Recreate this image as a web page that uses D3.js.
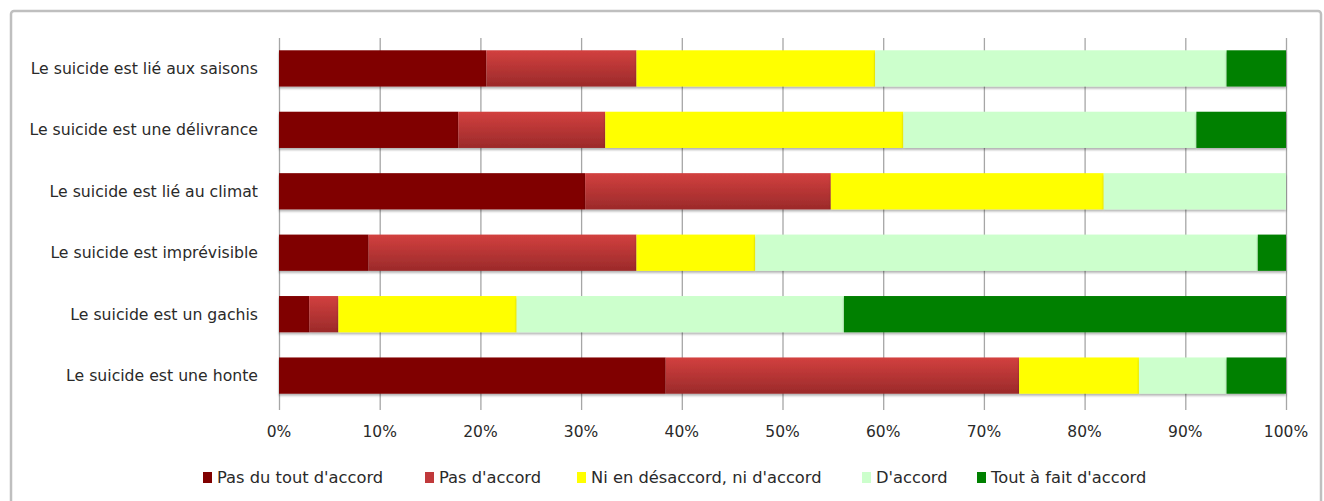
<!DOCTYPE html>
<html>
<head>
<meta charset="utf-8">
<script src="https://cdn.jsdelivr.net/npm/d3@7"></script>
<style>
  body { margin: 0; background: #fff; }
  svg { display: block; font-family: "DejaVu Sans", "Liberation Sans", Arial, sans-serif; }
</style>
</head>
<body>
<div id="chart"></div>
<script>
// categories, top to bottom
var categories = [
    "Le suicide est lié aux saisons",
    "Le suicide est une délivrance",
    "Le suicide est lié au climat",
    "Le suicide est imprévisible",
    "Le suicide est un gachis",
    "Le suicide est une honte"
];

var seriesNames = ["Pas du tout d'accord", "Pas d'accord", "Ni en désaccord, ni d'accord", "D'accord", "Tout à fait d'accord"];

// percentages per series, one value per category
var pasDuTout = [20.6, 17.8, 30.4, 8.9, 3.0, 38.4];
var pasAccord = [14.9, 14.6, 24.4, 26.6, 2.9, 35.1];
var neutre    = [23.7, 29.6, 27.1, 11.8, 17.7, 11.9];
var accord    = [34.9, 29.1, 18.1, 49.9, 32.5, 8.7];
var toutAFait = [5.9, 8.9, 0.0, 2.8, 43.9, 5.9];

var tickValues = [0, 10, 20, 30, 40, 50, 60, 70, 80, 90, 100];

var seriesColors = ["#800000", "url(#redGrad)", "#ffff00", "#ccffcc", "#008000"];
var legendColors = ["#800000", "#c0393b", "#ffff00", "#ccffcc", "#008000"];

var width = 1324, height = 501;
var margin = {left: 279, right: 38, top: 38, bottom: 95};

var svg = d3.select("#chart").append("svg")
    .attr("width", width)
    .attr("height", height);

var defs = svg.append("defs");
var grad = defs.append("linearGradient")
    .attr("id", "redGrad")
    .attr("x1", 0).attr("y1", 0).attr("x2", 0).attr("y2", 1);
grad.append("stop").attr("offset", "0%").attr("stop-color", "#d2403f");
grad.append("stop").attr("offset", "100%").attr("stop-color", "#9b2a2a");

var shadow = defs.append("filter").attr("id", "shadow")
    .attr("x", "-5%").attr("y", "-20%").attr("width", "110%").attr("height", "150%");
shadow.append("feDropShadow")
    .attr("dx", 0).attr("dy", 2).attr("stdDeviation", 1.2)
    .attr("flood-color", "#000").attr("flood-opacity", 0.3);

// outer frame
svg.append("rect")
    .attr("x", 11).attr("y", 11)
    .attr("width", 1310).attr("height", 500)
    .attr("rx", 3)
    .attr("fill", "#fff")
    .attr("stroke", "#bfbfbf")
    .attr("stroke-width", 2.5);

var x = d3.scaleLinear()
    .domain([0, 100])
    .range([margin.left, width - margin.right]);

var y = d3.scaleBand()
    .domain(categories)
    .range([margin.top, height - margin.bottom])
    .paddingInner(0.41)
    .paddingOuter(0.2);

// gridlines
svg.append("g")
    .selectAll("line")
    .data(tickValues)
    .enter().append("line")
    .attr("x1", function (d) { return x(d) + 0.5; })
    .attr("x2", function (d) { return x(d) + 0.5; })
    .attr("y1", margin.top)
    .attr("y2", height - margin.bottom + 4)
    .attr("stroke", "#a6a6a6")
    .attr("stroke-width", 1.3);

// stacked data
var rows = categories.map(function (c, i) {
    return {cat: c, v: [pasDuTout[i], pasAccord[i], neutre[i], accord[i], toutAFait[i]]};
});
var keys = [0, 1, 2, 3, 4];
var stacked = d3.stack()
    .keys(keys)
    .value(function (d, k) { return d.v[k]; })(rows);

var layers = svg.append("g").selectAll("g")
    .data(stacked)
    .enter().append("g")
    .attr("fill", function (d, i) { return seriesColors[i]; });

layers.selectAll("rect")
    .data(function (d) { return d; })
    .enter().append("rect")
    .attr("x", function (d) { return x(d[0]); })
    .attr("y", function (d) { return y(d.data.cat); })
    .attr("width", function (d) { return x(d[1]) - x(d[0]); })
    .attr("height", y.bandwidth())
    .attr("filter", "url(#shadow)");

// category labels
svg.append("g")
    .selectAll("text")
    .data(categories)
    .enter().append("text")
    .attr("x", margin.left - 21)
    .attr("y", function (d) { return y(d) + y.bandwidth() / 2; })
    .attr("dy", "0.35em")
    .attr("text-anchor", "end")
    .attr("font-size", 15.7)
    .attr("fill", "#2a2a2a")
    .text(function (d) { return d; });

// x axis tick labels
svg.append("g")
    .selectAll("text")
    .data(tickValues)
    .enter().append("text")
    .attr("x", function (d) { return x(d); })
    .attr("y", 437)
    .attr("text-anchor", "middle")
    .attr("font-size", 15.5)
    .attr("fill", "#2a2a2a")
    .text(function (d) { return d + "%"; });

// legend
var legendX = [203, 425, 577, 862, 977];
var legend = svg.append("g").selectAll("g")
    .data(seriesNames)
    .enter().append("g")
    .attr("transform", function (d, i) { return "translate(" + legendX[i] + ",477)"; });

legend.append("rect")
    .attr("x", 0).attr("y", -5)
    .attr("width", 9).attr("height", 11)
    .attr("fill", function (d, i) { return legendColors[i]; });

legend.append("text")
    .attr("x", 14)
    .attr("y", 0)
    .attr("dy", "0.35em")
    .attr("font-size", 16.3)
    .attr("fill", "#2a2a2a")
    .text(function (d) { return d; });
</script>
</body>
</html>
